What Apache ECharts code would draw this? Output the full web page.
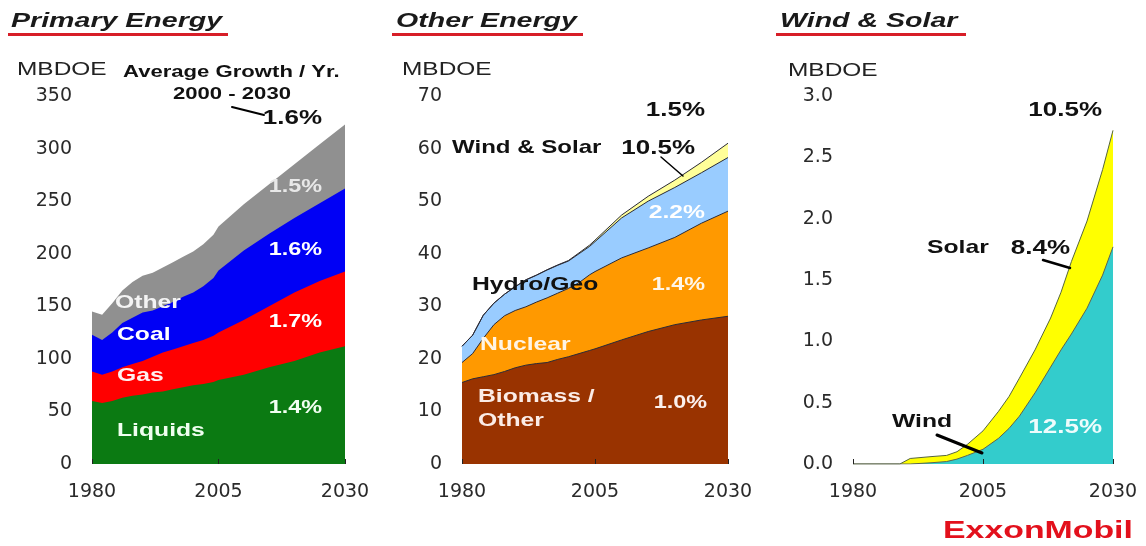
<!DOCTYPE html>
<html>
<head>
<meta charset="utf-8">
<script src="https://cdn.jsdelivr.net/npm/echarts/dist/echarts.min.js"></script>
<style>
  html, body { margin: 0; padding: 0; background: #ffffff; }
  #chart { width: 1146px; height: 546px; }
</style>
</head>
<body>
<div id="chart"></div>
<script>
// ---- Data (MBDOE) ----
const years = [1980, 1982, 1984, 1986, 1988, 1990, 1992, 1994, 1996, 1998, 2000, 2002, 2004, 2005, 2010, 2015, 2020, 2025, 2030];

// Primary energy, by fuel (layer thickness)
const liquids = [60, 58, 60, 63, 65, 66, 68, 69, 71, 73, 75, 76, 78, 80, 85, 92, 98, 106, 112];
const gas     = [28, 27, 28, 29, 30, 32, 34, 37, 38, 39, 40, 42, 44, 45, 52, 58, 65, 68, 71];
const coal    = [35, 33, 37, 42, 44, 46, 44, 44, 45, 47, 48, 51, 55, 59, 66, 69, 71, 74, 79];
const other   = [22, 24, 28, 31, 34, 35, 36, 37, 38, 38, 39, 40, 41, 42, 44, 47, 51, 56, 61];

// Other energy, by source (layer thickness)
const biomass   = [15.5, 16.2, 16.6, 17.0, 17.6, 18.3, 18.8, 19.1, 19.3, 19.9, 20.4, 21.0, 21.6, 21.9, 23.6, 25.2, 26.5, 27.4, 28.1];
const nuclear   = [3.8, 4.8, 7.3, 9.5, 10.6, 10.9, 11.1, 11.7, 12.3, 12.6, 13.0, 13.5, 14.4, 14.7, 15.6, 15.9, 16.6, 18.4, 20.0];
const hydroGeo  = [3.1, 3.5, 4.4, 4.1, 4.1, 4.5, 5.1, 5.1, 5.3, 5.3, 5.2, 5.5, 5.4, 5.7, 7.6, 8.9, 9.5, 9.6, 10.2];
const windSolar = [0, 0, 0, 0, 0, 0.04, 0.05, 0.05, 0.06, 0.07, 0.1, 0.16, 0.25, 0.28, 0.55, 0.93, 1.4, 1.98, 2.72];

// Wind & solar detail (layer thickness)
const yearsWS = [1980, 1985, 1989, 1991, 1995, 1998, 2000, 2002, 2005, 2008, 2010, 2012, 2015, 2018, 2020, 2022, 2025, 2028, 2030];
const wind    = [0, 0, 0, 0, 0.01, 0.02, 0.04, 0.07, 0.12, 0.21, 0.29, 0.39, 0.58, 0.79, 0.93, 1.06, 1.27, 1.54, 1.77];
const solar   = [0, 0, 0, 0.045, 0.05, 0.05, 0.06, 0.09, 0.15, 0.22, 0.26, 0.31, 0.35, 0.40, 0.47, 0.59, 0.71, 0.86, 0.95];

// Axis ticks
const xTicks = { min: 1980, max: 2030, interval: 25 };
const yTicks = [
  { min: 0, max: 350, interval: 50 },
  { min: 0, max: 70, interval: 10 },
  { min: 0, max: 3, interval: 0.5 }
];

// ---- Layout & style ----
const grids = [
  { left: 92,  top: 96, width: 253, height: 368 },
  { left: 462, top: 96, width: 266, height: 368 },
  { left: 853, top: 96, width: 260, height: 368 }
];
const axisFont = 'DejaVu Sans';
const annFont = '"Liberation Sans", Arial, sans-serif';
const STRETCH = 1.3;

// Running sums so every layer is drawn as a filled area from the axis up to its top edge;
// the upper layers are painted first and the lower ones over them.
function layerTops(bands) {
  const tops = [];
  let run = bands[0].map(() => 0);
  bands.forEach(b => {
    run = run.map((r, i) => Math.round((r + b[i]) * 1000) / 1000);
    tops.push(run);
  });
  return tops;
}

function stackedSeries(gi, xs, layers, outline) {
  const tops = layerTops(layers.map(l => l.values));
  const out = [];
  for (let k = layers.length - 1; k >= 0; k--) {
    const l = layers[k];
    out.push({
      name: l.name,
      type: 'line',
      xAxisIndex: gi,
      yAxisIndex: gi,
      symbol: 'none',
      silent: true,
      data: xs.map((x, i) => [x, tops[k][i]]),
      areaStyle: { color: l.color, opacity: 1 },
      lineStyle: outline ? { color: l.line || outline, width: 1 } : { width: 0, opacity: 0 },
      z: 2
    });
  }
  return out;
}

const series = [].concat(
  stackedSeries(0, years, [
    { name: 'Liquids', values: liquids, color: '#0b7a12' },
    { name: 'Gas', values: gas, color: '#ff0000' },
    { name: 'Coal', values: coal, color: '#0000f5' },
    { name: 'Other', values: other, color: '#909090' }
  ], null),
  stackedSeries(1, years, [
    { name: 'Biomass / Other', values: biomass, color: '#993300' },
    { name: 'Nuclear', values: nuclear, color: '#ff9900' },
    { name: 'Hydro/Geo', values: hydroGeo, color: '#99ccff' },
    { name: 'Wind & Solar', values: windSolar, color: '#ffff99' }
  ], '#2b2b38'),
  stackedSeries(2, yearsWS, [
    { name: 'Wind', values: wind, color: '#33cccc', line: '#5c6452' },
    { name: 'Solar', values: solar, color: '#ffff00' }
  ], '#56663c')
);

const xAxes = grids.map((g, i) => ({
  type: 'value',
  gridIndex: i,
  min: xTicks.min, max: xTicks.max, interval: xTicks.interval,
  z: 5,
  axisLine: { show: false },
  axisTick: { show: true, inside: true, length: 5, lineStyle: { color: '#222', width: 1 } },
  splitLine: { show: false },
  axisLabel: { formatter: v => String(v), fontFamily: axisFont, fontSize: 19, color: '#2a2a2a', margin: 19 }
}));

const yAxes = grids.map((g, i) => ({
  type: 'value',
  gridIndex: i,
  min: yTicks[i].min, max: yTicks[i].max, interval: yTicks[i].interval,
  axisLine: { show: false },
  axisTick: { show: false },
  splitLine: { show: false },
  axisLabel: {
    formatter: i === 2 ? (v => v.toFixed(1)) : (v => String(v)),
    fontFamily: axisFont, fontSize: 19, color: '#2a2a2a', margin: 20
  }
}));

// Text helper: Arial-style lettering, widened horizontally
function txt(text, x, y, opt) {
  opt = opt || {};
  return {
    type: 'text', x: x, y: y, z: 20, silent: true,
    scaleX: opt.sx || STRETCH,
    style: {
      text: text,
      font: (opt.style || 'bold') + ' ' + (opt.size || 19) + 'px ' + annFont,
      fill: opt.fill || '#111',
      align: opt.align || 'left',
      verticalAlign: 'middle'
    }
  };
}
function leader(x1, y1, x2, y2, w) {
  return { type: 'line', z: 20, silent: true, shape: { x1, y1, x2, y2 }, style: { stroke: '#000', lineWidth: w || 2, lineCap: 'round' } };
}
function underline(x, w) {
  return { type: 'rect', z: 20, silent: true, shape: { x: x, y: 33, width: w, height: 3 }, style: { fill: '#d71e28' } };
}

const graphic = [
  // panel titles
  txt('Primary Energy', 11, 21, { style: 'italic bold', size: 21, sx: 1.36, fill: '#1a1a1a' }),
  underline(8, 220),
  txt('Other Energy', 396, 21, { style: 'italic bold', size: 21, sx: 1.36, fill: '#1a1a1a' }),
  underline(392, 191),
  txt('Wind & Solar', 780, 21, { style: 'italic bold', size: 21, sx: 1.36, fill: '#1a1a1a' }),
  underline(776, 190),

  // unit labels
  txt('MBDOE', 17, 70, { style: 'normal', size: 18.5, sx: 1.32, fill: '#222' }),
  txt('MBDOE', 402, 70, { style: 'normal', size: 18.5, sx: 1.32, fill: '#222' }),
  txt('MBDOE', 788, 71, { style: 'normal', size: 18.5, sx: 1.32, fill: '#222' }),

  // Primary Energy notes
  txt('Average Growth / Yr.', 123, 72, { size: 17 }),
  txt('2000 - 2030', 173, 94, { size: 17 }),
  leader(232, 107, 264, 115, 2),
  txt('1.6%', 322, 118, { size: 20, align: 'right' }),
  txt('1.5%', 322, 187, { size: 18, align: 'right', fill: '#e8e8e8' }),
  txt('1.6%', 322, 250, { size: 18, align: 'right', fill: '#ffffff' }),
  txt('1.7%', 322, 322, { size: 18, align: 'right', fill: '#ffffff' }),
  txt('1.4%', 322, 408, { size: 18, align: 'right', fill: '#f2fff2' }),
  txt('Other', 115, 303, { fill: '#f4f4f4' }),
  txt('Coal', 117, 335, { fill: '#ffffff' }),
  txt('Gas', 117, 376, { fill: '#fff0f0' }),
  txt('Liquids', 117, 431, { fill: '#f0fff0' }),

  // Other Energy notes
  txt('1.5%', 705, 110, { size: 20, align: 'right' }),
  txt('Wind & Solar', 452, 148, { size: 18.5 }),
  txt('10.5%', 695, 148, { size: 20, align: 'right' }),
  leader(661, 157, 683, 176, 1.5),
  txt('2.2%', 705, 213, { size: 19, align: 'right', fill: '#ffffff' }),
  txt('Hydro/Geo', 472, 285),
  txt('1.4%', 705, 285, { size: 18, align: 'right', fill: '#fff6e8' }),
  txt('Nuclear', 480, 345, { fill: '#fff4e4' }),
  txt('Biomass /', 478, 397, { fill: '#fbece6' }),
  txt('Other', 478, 421, { fill: '#fbece6' }),
  txt('1.0%', 707, 403, { size: 18, align: 'right', fill: '#fbf0ec' }),

  // Wind & Solar notes
  txt('10.5%', 1102, 110, { size: 20, align: 'right' }),
  txt('Solar', 927, 248),
  txt('8.4%', 1070, 248, { size: 20, align: 'right' }),
  leader(1043, 260, 1070, 268, 2.5),
  txt('Wind', 892, 422),
  leader(937, 435, 982, 453, 3),
  txt('12.5%', 1102, 427, { size: 20, align: 'right', fill: '#eefcfc' }),

  // company mark
  txt('ExxonMobil', 943, 532, { size: 23.5, sx: 1.44, fill: '#e3101c' })
];

const chart = echarts.init(document.getElementById('chart'), null, { renderer: 'canvas' });
chart.setOption({
  animation: false,
  backgroundColor: '#ffffff',
  grid: grids,
  xAxis: xAxes,
  yAxis: yAxes,
  series: series,
  graphic: graphic
});
</script>
</body>
</html>
